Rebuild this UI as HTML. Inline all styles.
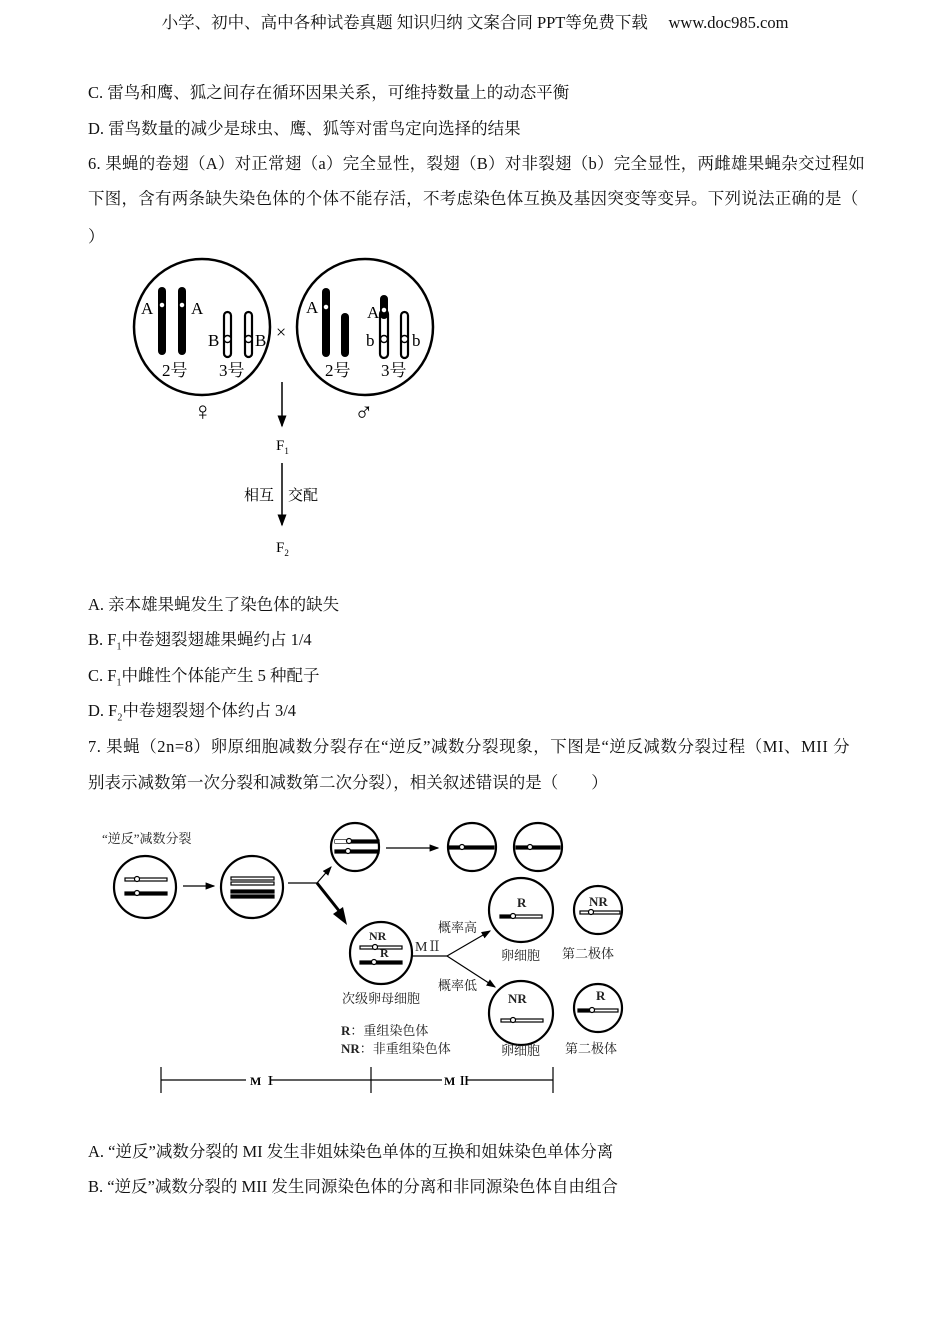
<!DOCTYPE html>
<html><head><meta charset="utf-8"><style>
body{margin:0;background:#fff;}
#p{position:relative;width:950px;height:1344px;overflow:hidden;font-family:"Liberation Serif","Noto Serif CJK SC",serif;color:#111;}
.t{position:absolute;left:88px;font-size:16.5px;white-space:nowrap;line-height:20px;}
svg{position:absolute;left:0;top:0;}
svg text{font-family:"Liberation Serif","Noto Serif CJK SC",serif;}
</style></head><body><div id="p">
<div class="t" style="left:0;width:950px;text-align:center;top:13px;font-size:16.5px">小学、初中、高中各种试卷真题&nbsp;知识归纳&nbsp;文案合同&nbsp;PPT等免费下载&nbsp;&nbsp;&nbsp;&nbsp;&nbsp;www.doc985.com</div>
<div class="t" style="top:83px">C. 雷鸟和鹰、狐之间存在循环因果关系，可维持数量上的动态平衡</div>
<div class="t" style="top:119px">D. 雷鸟数量的减少是球虫、鹰、狐等对雷鸟定向选择的结果</div>
<div class="t" style="top:154px;letter-spacing:0.25px">6. 果蝇的卷翅（A）对正常翅（a）完全显性，裂翅（B）对非裂翅（b）完全显性，两雌雄果蝇杂交过程如</div>
<div class="t" style="top:189px;letter-spacing:0.25px">下图，含有两条缺失染色体的个体不能存活，不考虑染色体互换及基因突变等变异。下列说法正确的是（</div>
<div class="t" style="top:227px">）</div>
<div class="t" style="top:595px">A. 亲本雄果蝇发生了染色体的缺失</div>
<div class="t" style="top:630px">B. F<sub style="font-size:10px">1</sub>中卷翅裂翅雄果蝇约占 1/4</div>
<div class="t" style="top:666px">C. F<sub style="font-size:10px">1</sub>中雌性个体能产生 5 种配子</div>
<div class="t" style="top:701px">D. F<sub style="font-size:10px">2</sub>中卷翅裂翅个体约占 3/4</div>
<div class="t" style="top:737px;letter-spacing:0.55px">7. 果蝇（2n=8）卵原细胞减数分裂存在“逆反”减数分裂现象，下图是“逆反减数分裂过程（MI、MII 分</div>
<div class="t" style="top:773px">别表示减数第一次分裂和减数第二次分裂），相关叙述错误的是（&nbsp;&nbsp;&nbsp;&nbsp;&nbsp;&nbsp;&nbsp;&nbsp;）</div>
<div class="t" style="top:1142px">A. “逆反”减数分裂的 MI 发生非姐妹染色单体的互换和姐妹染色单体分离</div>
<div class="t" style="top:1177px">B. “逆反”减数分裂的 MII 发生同源染色体的分离和非同源染色体自由组合</div>

<svg width="950" height="1344" viewBox="0 0 950 1344">
<defs><marker id="ar" markerWidth="8" markerHeight="8" refX="7" refY="4" orient="auto"><path d="M0,1 L8,4 L0,7 z" fill="#000"/></marker></defs>
<g stroke="#000" stroke-width="2.5" fill="none">
<circle cx="202" cy="327" r="68"/><circle cx="365" cy="327" r="68"/>
</g>
<g fill="#000">
<rect x="158" y="287" width="8" height="68" rx="4"/><rect x="178" y="287" width="8" height="68" rx="4"/>
<rect x="322" y="288" width="8" height="69" rx="4"/><rect x="341" y="313" width="8" height="44" rx="4"/>
<rect x="380" y="295" width="8" height="24" rx="4"/>
</g>
<g fill="none" stroke="#000" stroke-width="2.2">
<rect x="224" y="312" width="7" height="45" rx="3.5"/><rect x="245" y="312" width="7" height="45" rx="3.5"/>
<rect x="380" y="310" width="8" height="48" rx="4"/><rect x="401" y="312" width="7" height="46" rx="3.5"/>
</g>
<g fill="#fff" stroke="#000" stroke-width="1.5">
<circle cx="162" cy="305" r="3"/><circle cx="182" cy="305" r="3"/>
<circle cx="227.5" cy="339" r="3.5"/><circle cx="248.5" cy="339" r="3.5"/>
<circle cx="326" cy="307" r="3"/><circle cx="384" cy="310" r="3"/>
<circle cx="384" cy="339" r="3.5"/><circle cx="404.5" cy="339" r="3.5"/>
</g>
<g font-size="17" fill="#000">
<text x="141" y="314">A</text><text x="191" y="314">A</text>
<text x="208" y="346">B</text><text x="255" y="346">B</text>
<text x="306" y="313">A</text><text x="367" y="318">A</text>
<text x="366" y="346">b</text><text x="412" y="346">b</text>
<text x="162" y="376">2号</text><text x="219" y="376">3号</text>
<text x="325" y="376">2号</text><text x="381" y="376">3号</text>
<text x="276" y="338" font-size="18">×</text>
<text x="193" y="420" font-size="26">♀</text><text x="354" y="421" font-size="26">♂</text>
<text x="276" y="450" font-size="15">F<tspan font-size="9" dy="4">1</tspan></text>
<text x="276" y="552" font-size="15">F<tspan font-size="9" dy="4">2</tspan></text>
<text x="244" y="500" font-size="15" font-family="Liberation Sans, Noto Sans CJK SC, sans-serif">相互</text>
<text x="288" y="500" font-size="15" font-family="Liberation Sans, Noto Sans CJK SC, sans-serif">交配</text>
</g>
<g stroke="#000" stroke-width="1.5"><line x1="282" y1="382" x2="282" y2="426" marker-end="url(#ar)"/><line x1="282" y1="463" x2="282" y2="525" marker-end="url(#ar)"/></g>

<g stroke="#000" stroke-width="2.2" fill="none">
<circle cx="145" cy="887" r="31"/><circle cx="252" cy="887" r="31"/>
<circle cx="355" cy="847" r="24"/><circle cx="472" cy="847" r="24"/><circle cx="538" cy="847" r="24"/>
<circle cx="381" cy="953" r="31"/>
<circle cx="521" cy="910" r="32"/><circle cx="521" cy="1013" r="32"/>
<circle cx="598" cy="910" r="24"/><circle cx="598" cy="1008" r="24"/>
</g>
<g stroke="#000" stroke-width="1.2" fill="none">
<line x1="183" y1="886" x2="214" y2="886" marker-end="url(#ar)"/>
<line x1="288" y1="883" x2="317" y2="883"/>
<line x1="317" y1="883" x2="331" y2="867" marker-end="url(#ar)"/>
<line x1="386" y1="848" x2="438" y2="848" marker-end="url(#ar)"/>
<line x1="412" y1="956" x2="447" y2="956"/>
<line x1="447" y1="956" x2="490" y2="931" marker-end="url(#ar)"/>
<line x1="447" y1="956" x2="495" y2="987" marker-end="url(#ar)"/>
</g>
<line x1="317" y1="883" x2="340" y2="912" stroke="#000" stroke-width="3"/>
<path d="M333,914 L347,925 L343,907 z" fill="#000"/>
<g stroke="#000" stroke-width="1.2">
<rect x="125" y="878" width="42" height="3" fill="#fff"/><rect x="125" y="892" width="42" height="3" fill="#000"/>
<rect x="231" y="877" width="43" height="3" fill="#fff"/><rect x="231" y="882" width="43" height="3" fill="#fff"/>
<rect x="231" y="890" width="43" height="3" fill="#000"/><rect x="231" y="895" width="43" height="3" fill="#000"/>
<rect x="335" y="840" width="44" height="3" fill="#000"/><rect x="335" y="850" width="44" height="3" fill="#000"/>
<rect x="449" y="846" width="45" height="3" fill="#000"/>
<rect x="516" y="846" width="44" height="3" fill="#000"/>
<rect x="360" y="946" width="42" height="3" fill="#fff"/><rect x="360" y="961" width="42" height="3" fill="#000"/>
<rect x="500" y="915" width="42" height="3" fill="#fff"/>
<rect x="501" y="1019" width="42" height="3" fill="#fff"/>
<rect x="580" y="911" width="40" height="3" fill="#fff"/>
<rect x="578" y="1009" width="40" height="3" fill="#fff"/>
</g>
<g fill="#000"><rect x="335" y="840" width="14" height="3" fill="#fff"/><rect x="500" y="915" width="14" height="3"/><rect x="578" y="1009" width="12" height="3"/><rect x="360" y="961" width="14" height="3"/></g>
<g fill="#fff" stroke="#000" stroke-width="1.2">
<circle cx="137" cy="879" r="2.5"/><circle cx="137" cy="893" r="2.5"/>
<circle cx="349" cy="841" r="2.5"/><circle cx="348" cy="851" r="2.5"/>
<circle cx="462" cy="847" r="2.5"/><circle cx="530" cy="847" r="2.5"/>
<circle cx="375" cy="947" r="2.5"/><circle cx="374" cy="962" r="2.5"/>
<circle cx="513" cy="916" r="2.5"/><circle cx="513" cy="1020" r="2.5"/>
<circle cx="591" cy="912" r="2.5"/><circle cx="592" cy="1010" r="2.5"/>
</g>
<g font-size="13" fill="#222">
<text x="102" y="843">“逆反”减数分裂</text>
<text x="369" y="940" font-weight="bold" font-size="12">NR</text>
<text x="380" y="957" font-weight="bold" font-size="12">R</text>
<text x="415" y="951" font-size="14">MⅡ</text>
<text x="438" y="932">概率高</text><text x="438" y="990">概率低</text>
<text x="517" y="907" font-weight="bold">R</text>
<text x="508" y="1003" font-weight="bold">NR</text>
<text x="589" y="906" font-weight="bold">NR</text>
<text x="596" y="1000" font-weight="bold">R</text>
<text x="501" y="960">卵细胞</text><text x="562" y="958">第二极体</text>
<text x="342" y="1003">次级卵母细胞</text>
<text x="341" y="1035" font-weight="bold">R<tspan font-weight="normal">：重组染色体</tspan></text>
<text x="341" y="1053" font-weight="bold">NR<tspan font-weight="normal">：非重组染色体</tspan></text>
<text x="501" y="1055">卵细胞</text><text x="565" y="1053">第二极体</text>
</g>
<g stroke="#000" stroke-width="1.2">
<line x1="161" y1="1080" x2="246" y2="1080"/><line x1="270" y1="1080" x2="371" y2="1080"/>
<line x1="371" y1="1080" x2="442" y2="1080"/><line x1="467" y1="1080" x2="553" y2="1080"/>
<line x1="161" y1="1067" x2="161" y2="1093"/><line x1="371" y1="1067" x2="371" y2="1093"/><line x1="553" y1="1067" x2="553" y2="1093"/>
</g>
<text x="250" y="1085" font-size="12" font-weight="bold">M Ⅰ</text>
<text x="444" y="1085" font-size="12" font-weight="bold">M Ⅱ</text>
</svg>
</div></body></html>
